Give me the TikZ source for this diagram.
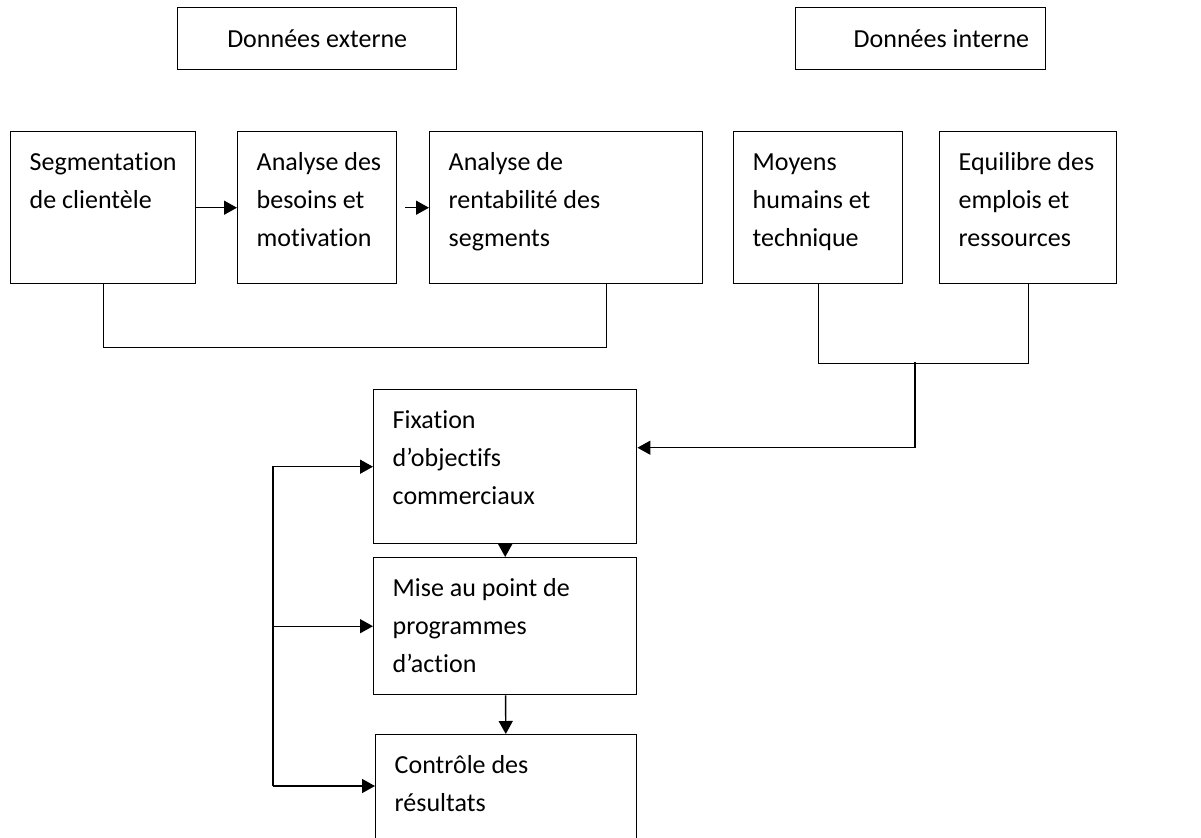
\documentclass[tikz,border=0pt]{standalone}
\usepackage{fontspec}
\setmainfont{Carlito}[Ligatures=NoCommon]
\usetikzlibrary{arrows.meta}

\newcommand{\bloc}[3]{\parbox[c][#2][t]{#1}{\raggedright\leftskip=0.38cm\vspace*{0.25cm}\strut#3}}

\begin{document}
\begin{tikzpicture}[font=\fontsize{14.8}{21.6}\selectfont,
  etape/.style={draw,rectangle,anchor=north west,inner sep=0pt,line width=0.8pt},
  fleche/.style={-{Triangle[length=0.26cm,width=0.28cm]},line width=0.8pt},
  trait/.style={line width=0.8pt}]
\useasboundingbox (0,0) rectangle (24.02,-16.74);
\clip (0,0) rectangle (24.02,-16.74);

\node[etape] (ext) at (3.54,-0.14) {\parbox[c][1.24cm][c]{5.58cm}{\centering Données externe}};
\node[etape] (int) at (15.9,-0.14) {\parbox[c][1.24cm][c]{5cm}{\hspace*{1.16cm}Données interne}};

\node[etape] (seg) at (0.2,-2.62) {\bloc{3.7cm}{3.04cm}{Segmentation\\de clientèle}};
\node[etape] (bes) at (4.74,-2.62) {\bloc{3.18cm}{3.04cm}{Analyse des\\besoins et\\motivation}};
\node[etape] (ren) at (8.58,-2.62) {\bloc{5.46cm}{3.04cm}{Analyse de\\rentabilité des\\segments}};
\node[etape] (moy) at (14.66,-2.62) {\bloc{3.38cm}{3.04cm}{Moyens\\humains et\\technique}};
\node[etape] (equ) at (18.78,-2.62) {\bloc{3.54cm}{3.04cm}{Equilibre des\\emplois et\\ressources}};

\node[etape] (fix) at (7.46,-7.78) {\bloc{5.26cm}{3.08cm}{Fixation\\d’objectifs\\commerciaux}};
\node[etape] (mis) at (7.46,-11.14) {\bloc{5.26cm}{2.74cm}{Mise au point de\\programmes\\d’action}};
\node[etape] (con) at (7.5,-14.68) {\bloc{5.22cm}{3cm}{Contrôle des\\résultats}};

\coordinate (jonc) at (18.3,-7.24);
\coordinate (retour) at (5.46,-15.72);

\draw[fleche] (seg) -- (bes);
\draw[fleche] ([xshift=0.16cm]bes.east) -- (ren.west);
\draw[trait] (seg.south) -- ++(0,-1.26) -| ([xshift=0.8cm]ren.south);
\draw[trait] (moy.south) -- ++(0,-1.58) -| (equ.south);
\draw[fleche] (jonc) |- ([yshift=0.38cm]fix.east);
\draw[fleche] (fix) -- (mis);
\draw[fleche] (mis) -- (con);
\draw[fleche] (retour) |- (fix.west);
\draw[fleche] (retour |- mis.west) -- (mis.west);
\draw[fleche] (retour) -- (retour -| con.west);
\end{tikzpicture}
\end{document}
